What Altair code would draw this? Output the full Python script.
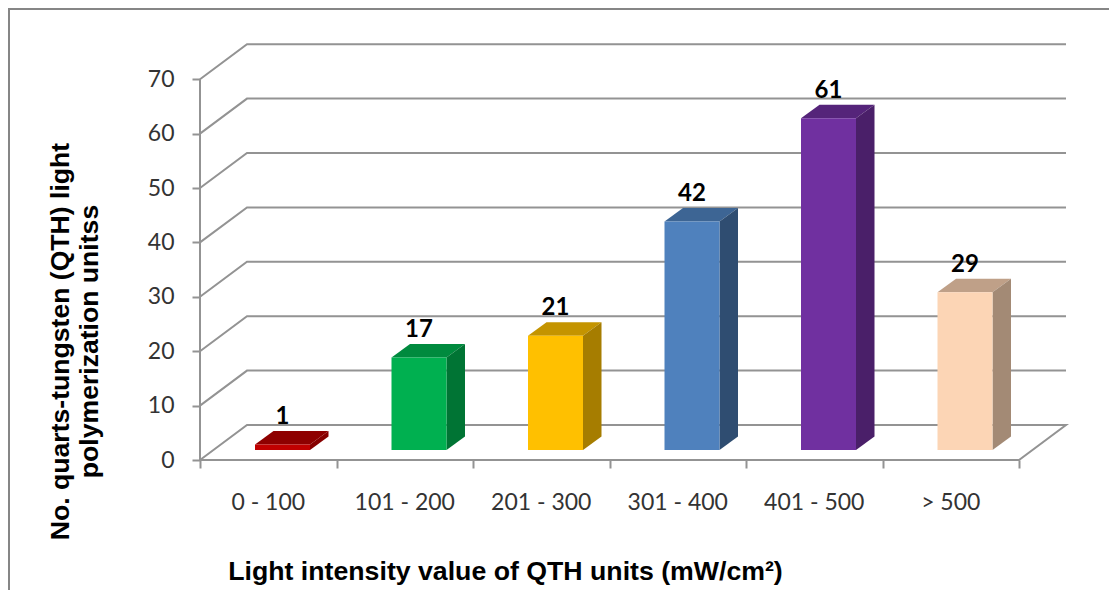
import altair as alt
import pandas as pd

categories = ["0 - 100", "101 - 200", "201 - 300", "301 - 400", "401 - 500", "> 500"]
values = [1, 17, 21, 42, 61, 29]
front_colors = ["#C00000", "#00B050", "#FFC000", "#4F81BD", "#7030A0", "#FCD5B5"]
top_colors = ["#8E0000", "#008A3E", "#C49400", "#3D6594", "#55247A", "#BFA088"]
side_colors = ["#860000", "#007434", "#A67D00", "#2F4D71", "#4A1F69", "#A38A75"]
y_ticks = [0, 10, 20, 30, 40, 50, 60, 70]
x_ticks = [0, 1, 2, 3, 4, 5, 6]
y_title = ["No. quarts-tungsten (QTH) light", "polymerization unitss"]
x_title = "Light intensity value of QTH units (mW/cm\u00b2)"

W, H = 1101, 582
PX = 136.5    # pixels per category
PY = 5.44     # pixels per value unit
X0, Y0 = 192, 452  # where the origin of the front plane falls
x_scale = alt.Scale(domain=[-X0 / PX, (W - X0) / PX], range=[0, W], nice=False, zero=False)
y_scale = alt.Scale(domain=[-(H - Y0) / PY, Y0 / PY], range=[H, 0], nice=False, zero=False)

WALL_DX, WALL_DY = 47 / PX, 35 / PY
BAR_DX, BAR_DY = 18.5 / PX, 13.5 / PY
BASE = 10 / PY
BAR_L, BAR_W = 55 / PX, 55 / PX

grid_rows = []
for v in y_ticks:
    if v == 0:
        continue
    for p, q in [(0, v), (WALL_DX, v + WALL_DY), (6 + WALL_DX, v + WALL_DY)]:
        grid_rows.append({"p": p, "v": q, "line": f"g{v}"})
for p, q in [(0, 0), (WALL_DX, WALL_DY), (6 + WALL_DX, WALL_DY), (6, 0), (0, 0)]:
    grid_rows.append({"p": p, "v": q, "line": "floor"})
for p, q in [(0, 0), (0, 70)]:
    grid_rows.append({"p": p, "v": q, "line": "axis"})
grid_df = pd.DataFrame(grid_rows)
grid_df["o"] = grid_df.groupby("line").cumcount()

key_domain, key_range, face_rows, front_rows, label_rows = [], [], [], [], []
for i, (c, val) in enumerate(zip(categories, values)):
    l = i + BAR_L
    r = l + BAR_W
    top = val + BASE
    key_domain += [f"{c}|front", f"{c}|top", f"{c}|side"]
    key_range += [front_colors[i], top_colors[i], side_colors[i]]
    front_rows.append({"l": l, "r": r, "lo": BASE, "hi": top, "k": f"{c}|front"})
    for p, a, b in [(l, top, top), (l + BAR_DX, top, top + BAR_DY), (r, top, top + BAR_DY), (r + BAR_DX, top + BAR_DY, top + BAR_DY)]:
        face_rows.append({"p": p, "a": a, "b": b, "k": f"{c}|top"})
    for p, a, b in [(r, BASE, top), (r + BAR_DX, BASE + BAR_DY, top + BAR_DY)]:
        face_rows.append({"p": p, "a": a, "b": b, "k": f"{c}|side"})
    label_rows.append({"p": (l + r) / 2, "v": top + BAR_DY, "t": str(val)})
face_df = pd.DataFrame(face_rows)
front_df = pd.DataFrame(front_rows)
label_df = pd.DataFrame(label_rows)
cat_df = pd.DataFrame({"p": [i + 0.5 for i in range(6)], "v": [0] * 6, "t": categories})

color_scale = alt.Scale(domain=key_domain, range=key_range)
GRAY = "#939393"

x_axis = alt.Axis(values=x_ticks, labels=False, grid=False, domain=False, ticks=True, tickSize=8,
                  tickColor=GRAY, tickWidth=2, offset=-(H - Y0),
                  title=x_title, titleFont="Liberation Sans", titleFontSize=26.7, titleFontWeight="bold",
                  titleColor="#000000", titleX=497, titleY=111, titleAlign="center", titleBaseline="middle")
y_axis = alt.Axis(values=y_ticks, grid=False, domain=False, ticks=True, tickSize=8, tickColor=GRAY, tickWidth=2,
                  offset=-X0, labelFont="Lato", labelFontSize=23, labelColor="#333333", labelPadding=18,
                  title=y_title, titleFont="Liberation Sans", titleFontSize=26.6, titleFontWeight="bold",
                  titleColor="#000000", titleX=-140, titleY=333, titleAngle=270, titleAlign="center",
                  titleBaseline="middle", titleLineHeight=29)

grid = alt.Chart(grid_df).mark_line(color=GRAY, strokeWidth=2, strokeJoin="miter").encode(
    x=alt.X("p:Q", scale=x_scale, axis=x_axis),
    y=alt.Y("v:Q", scale=y_scale, axis=y_axis),
    detail="line:N",
    order="o:Q",
)
front = alt.Chart(front_df).mark_rect().encode(
    x=alt.X("l:Q", scale=x_scale), x2="r:Q",
    y=alt.Y("lo:Q", scale=y_scale), y2="hi:Q",
    color=alt.Color("k:N", scale=color_scale, legend=None),
)
faces = alt.Chart(face_df).mark_area(interpolate="linear").encode(
    x=alt.X("p:Q", scale=x_scale),
    y=alt.Y("a:Q", scale=y_scale), y2="b:Q",
    color=alt.Color("k:N", scale=color_scale, legend=None),
)
bar_labels = alt.Chart(label_df).mark_text(font="Lato", fontSize=24, fontWeight="bold", color="#000000", dy=-14).encode(
    x=alt.X("p:Q", scale=x_scale), y=alt.Y("v:Q", scale=y_scale), text="t:N",
)
cat_labels = alt.Chart(cat_df).mark_text(font="Lato", fontSize=23, color="#333333", dy=43).encode(
    x=alt.X("p:Q", scale=x_scale), y=alt.Y("v:Q", scale=y_scale), text="t:N",
)
frame_left = alt.Chart(pd.DataFrame({"a": [0]})).mark_rule(color="#868686", strokeWidth=2).encode(
    x=alt.value(1), y=alt.value(0), y2=alt.value(H))
frame_top = alt.Chart(pd.DataFrame({"a": [0]})).mark_rule(color="#868686", strokeWidth=2).encode(
    y=alt.value(1), x=alt.value(0), x2=alt.value(W))

chart = alt.layer(frame_left, frame_top, grid, faces, front, bar_labels, cat_labels).properties(
    width=W, height=H, padding=0, autosize=alt.AutoSizeParams(type="none")
).configure_view(stroke=None).configure(background="white")

chart.save("out.html", embed_options={"renderer": "svg", "actions": False})
